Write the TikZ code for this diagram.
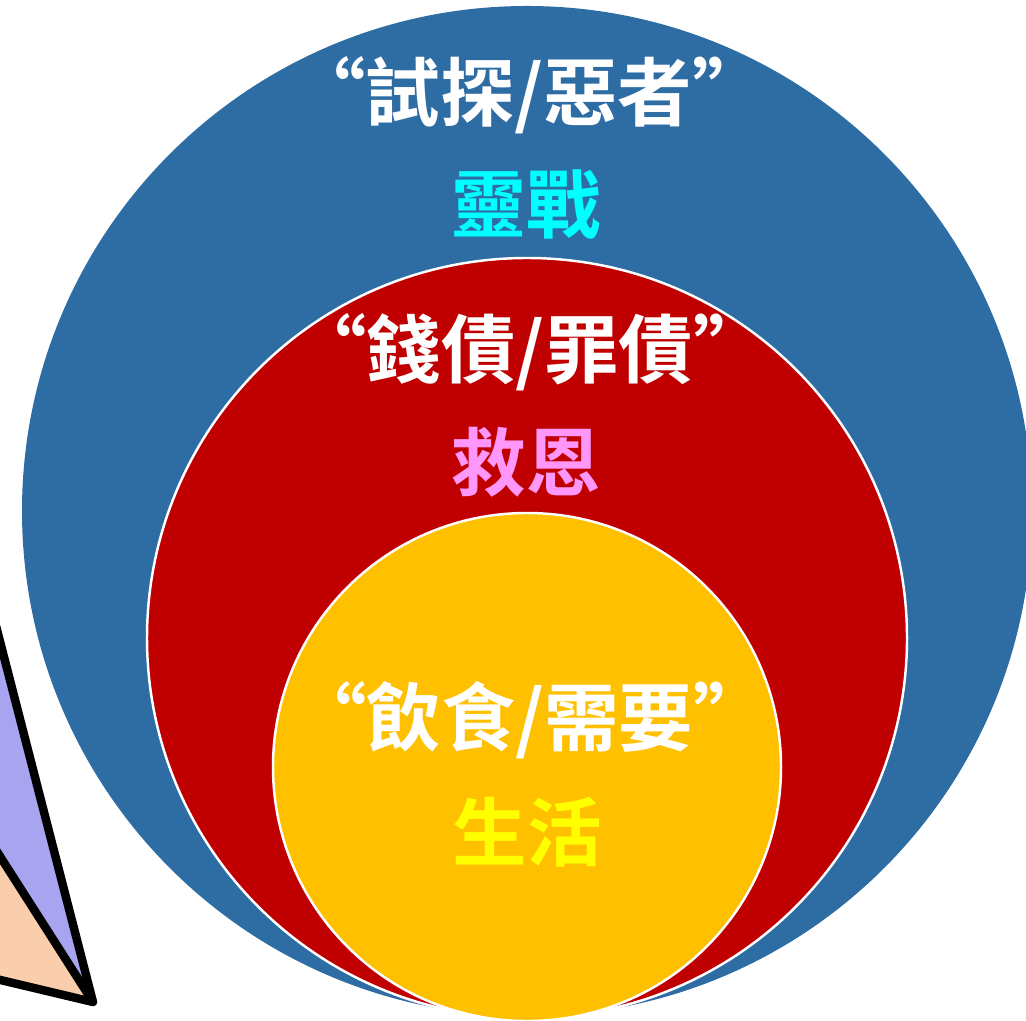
\documentclass[tikz,border=0pt]{standalone}
\usepackage{fontspec}
\newfontfamily\cjk{Noto Sans CJK TC}[BoldFont={Noto Sans CJK TC Bold}]
\usetikzlibrary{positioning}
\definecolor{ringblue}{RGB}{46,109,164}
\definecolor{ringred}{RGB}{192,0,0}
\definecolor{ringgold}{RGB}{255,192,0}
\definecolor{lilac}{RGB}{168,164,240}
\definecolor{peach}{RGB}{250,205,172}
\definecolor{aqua}{RGB}{0,255,255}
\definecolor{orchid}{RGB}{255,150,250}
\definecolor{lemon}{RGB}{255,255,0}
\newcommand\midx{5.27}

\begin{document}
\begin{tikzpicture}[ring/.style={circle, inner sep=0pt},
    edge/.style={line width=2.4pt, line join=round},
    quoteline/.style={font=\cjk\bfseries\fontsize{21.2}{25}\selectfont, text=white, inner sep=0pt},
    theme/.style={font=\cjk\bfseries\fontsize{21.2}{25}\selectfont, inner sep=0pt}]

    \clip (0, 0) rectangle (10.26, -10.20);

    % Triangle at the left edge
    \fill[lilac] (-0.21, -5.60) -- (0.93, -10.02) -- (-0.50, -7.78) -- cycle;
    \fill[peach] (-0.50, -7.78) -- (0.93, -10.02) -- (-0.50, -9.68) -- cycle;
    \draw[edge] (-0.21, -5.60) -- (0.93, -10.02) -- (-0.50, -9.68);
    \draw[edge] (-0.50, -7.78) -- (0.93, -10.02);

    % Rings
    \node at (\midx, -5.11) [ring, fill=ringblue, minimum size=10.10cm] (outer) {};
    \node at (\midx, -6.38) [ring, fill=ringred, draw=white, line width=0.7pt, minimum size=7.60cm] (middle) {};
    \node at (\midx, -7.67) [ring, fill=ringgold, draw=white, line width=0.7pt, minimum size=5.08cm] (inner) {};

    % Words
    \node at (\midx + 0.02, -0.95) [quoteline] (tempt) {“試探/惡者”};
    \node at (\midx - 0.01, -2.05) [theme, text=aqua] (war) {靈戰};
    \node at (\midx + 0.03, -3.52) [quoteline] (debt) {“錢債/罪債”};
    \node at (\midx - 0.01, -4.62) [theme, text=orchid] (grace) {救恩};
    \node at (\midx + 0.03, -7.20) [quoteline] (food) {“飲食/需要”};
    \node at (\midx, -8.32) [theme, text=lemon] (life) {生活};

\end{tikzpicture}
\end{document}
